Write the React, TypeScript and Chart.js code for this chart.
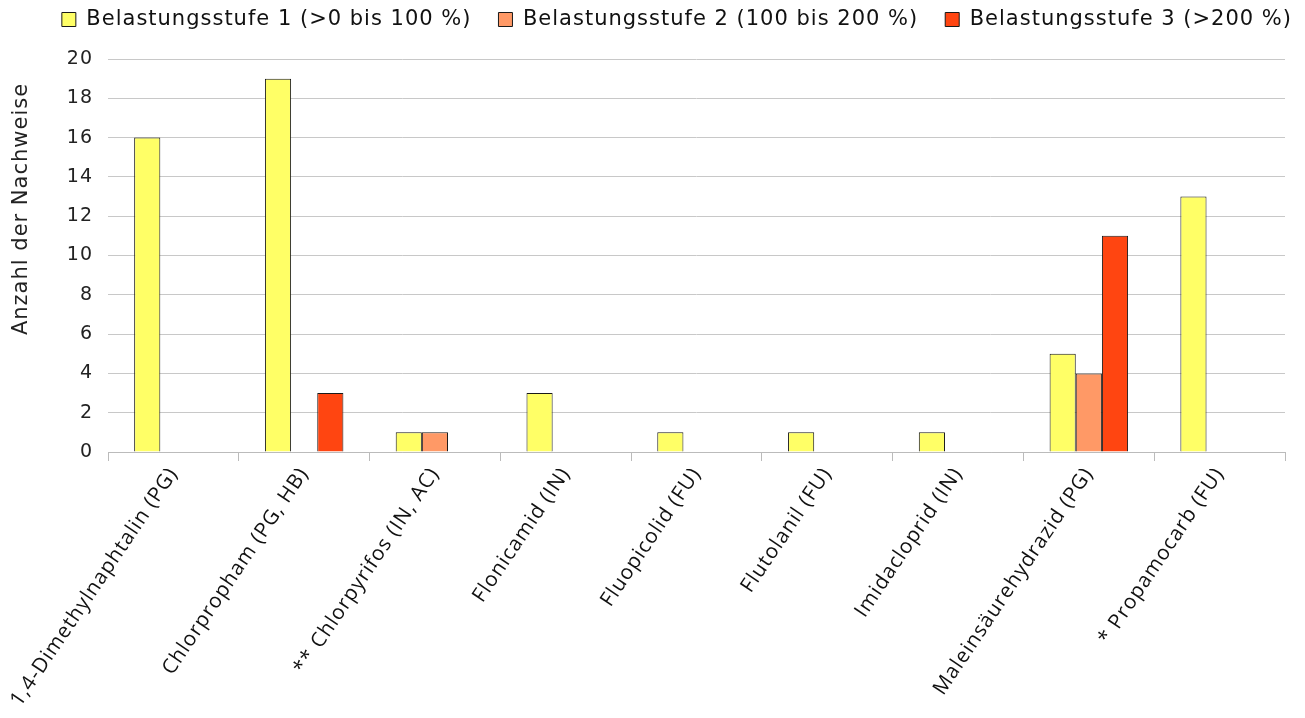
import React, { useEffect, useRef } from "react";
import { Chart, registerables } from "chart.js";

Chart.register(...registerables);

const categories = [
  "1,4-Dimethylnaphtalin (PG)",
  "Chlorpropham (PG, HB)",
  "** Chlorpyrifos (IN, AC)",
  "Flonicamid (IN)",
  "Fluopicolid (FU)",
  "Flutolanil (FU)",
  "Imidacloprid (IN)",
  "Maleinsäurehydrazid (PG)",
  "* Propamocarb (FU)",
];
const stufe1 = [16, 19, 1, 3, 1, 1, 1, 5, 13];
const stufe2 = [null, null, 1, null, null, null, null, 4, null];
const stufe3 = [null, 3, null, null, null, null, null, 11, null];
const seriesLabels = [
  "Belastungsstufe 1 (>0 bis 100 %)",
  "Belastungsstufe 2 (100 bis 200 %)",
  "Belastungsstufe 3 (>200 %)",
];
const yTitle = "Anzahl der Nachweise";
const colors = ["#FFFF66", "#FF9966", "#FF4511"];

const spacingPlugin = {
  id: "spacing",
  beforeInit(chart: any) {
    const orig = chart.legend.fit;
    chart.legend.fit = function () {
      orig.bind(chart.legend)();
      this.height = 59;
    };
  },
  beforeLayout(chart: any) {
    chart.ctx.letterSpacing = "1px";
  },
  afterLayout(chart: any) {
    chart.legend.top = -18;
    chart.legend.left += 34;
    chart.legend.right += 34;
  },
  beforeDraw(chart: any) {
    chart.ctx.letterSpacing = "1px";
  },
  afterDraw(chart: any) {
    const ctx = chart.ctx;
    ctx.save();
    ctx.letterSpacing = "1px";
    ctx.font = "21px 'DejaVu Sans'";
    ctx.fillStyle = "#222";
    ctx.textAlign = "center";
    ctx.textBaseline = "middle";
    ctx.translate(22, 209);
    ctx.rotate(-Math.PI / 2);
    ctx.fillText(yTitle, 0, 0);
    ctx.restore();
  },
};

export default function App() {
  const ref = useRef<HTMLCanvasElement>(null);
  useEffect(() => {
    document.body.style.margin = "0";
    const ctx = ref.current!;
    const chart = new Chart(ctx, {
      type: "bar",
      data: {
        labels: categories,
        datasets: [stufe1, stufe2, stufe3].map((d, i) => ({
          label: seriesLabels[i],
          data: d as any,
          backgroundColor: colors[i],
          borderColor: "#1a1a1a",
          borderWidth: 1,
          categoryPercentage: 0.6,
          barPercentage: 1,
        })),
      },
      plugins: [spacingPlugin],
      options: {
        animation: false,
        responsive: false,
        maintainAspectRatio: false,
        layout: { padding: { left: 0, right: 20, top: 0, bottom: 0 } },
        plugins: {
          tooltip: { enabled: false },
          legend: {
            position: "top",
            align: "end",
            labels: {
              boxWidth: 14,
              boxHeight: 14,
              color: "#111",
              font: { family: "DejaVu Sans", size: 21 },
              padding: 27,
            },
          },
        },
        scales: {
          x: {
            afterFit(scale: any) {
              scale.height = 266;
            },
            grid: {
              drawOnChartArea: false,
              drawTicks: true,
              tickLength: 9,
              color: "#BBBBBB",
              offset: true,
            },
            border: { display: true, color: "#BBBBBB" },
            ticks: {
              autoSkip: false,
              minRotation: 56,
              maxRotation: 56,
              color: "#111",
              font: { family: "Open Sans", size: 20.5 },
              padding: 2,
            },
          },
          y: {
            min: 0,
            max: 20,
            afterFit(scale: any) {
              scale.width = 108;
            },
            grid: { color: "#C8C8C8", drawTicks: false },
            border: { display: false },
            ticks: {
              stepSize: 2,
              color: "#222",
              font: { family: "DejaVu Sans", size: 19 },
              padding: 15,
            },
          },
        },
      },
    });
    return () => chart.destroy();
  }, []);
  return (
    <div style={{ width: 1305, height: 718 }}>
      <canvas ref={ref} width={1305} height={718} />
    </div>
  );
}
